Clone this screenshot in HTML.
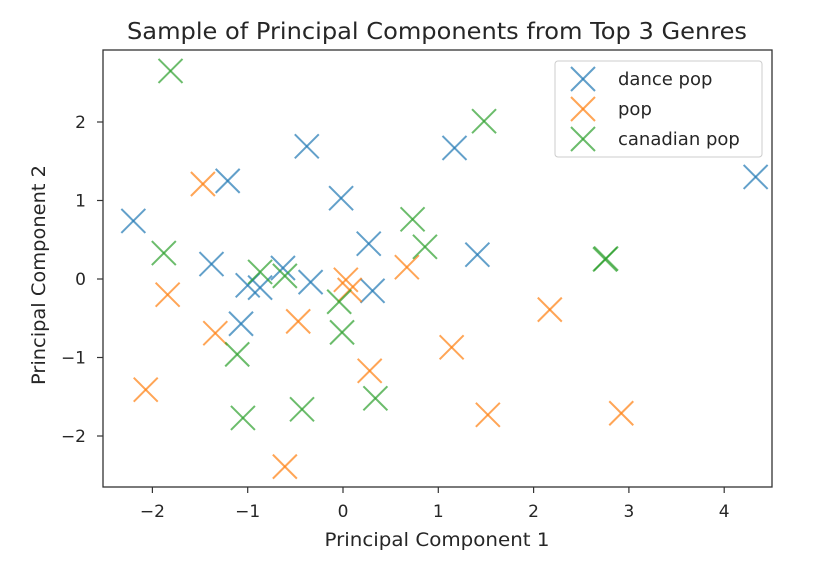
<!DOCTYPE html>
<html><head><meta charset="utf-8"><style>
body{margin:0;background:#fff;}
svg text{font-family:"DejaVu Sans","Liberation Sans",sans-serif;fill:#262626;}
</style></head><body>
<svg id="chart" width="818" height="566" xmlns="http://www.w3.org/2000/svg">
<rect width="818" height="566" fill="#fff"/>
<text x="437" y="39" font-size="23" text-anchor="middle" textLength="620" lengthAdjust="spacingAndGlyphs">Sample of Principal Components from Top 3 Genres</text>
<g id="axes"></g>
<g id="marks"></g>
<rect x="103" y="50" width="669" height="437" fill="none" stroke="#333" stroke-width="1.3"/>
<text x="437" y="546" font-size="19" text-anchor="middle" textLength="225" lengthAdjust="spacingAndGlyphs">Principal Component 1</text>
<text x="45" y="275" font-size="19" text-anchor="middle" textLength="220" lengthAdjust="spacingAndGlyphs" transform="rotate(-90 45 275)">Principal Component 2</text>
<g id="legend"></g>
</svg>
<script>
const seriesNames=["dance pop","pop","canadian pop"];
const seriesColors=["#1f77b4","#ff7f0e","#2ca02c"];
const danceX=[-2.2,-1.21,-0.38,-0.02,1.17,0.27,0.31,-1.38,-1.07,-1.0,-0.87,-0.63,-0.34,1.41,4.33];
const danceY=[0.74,1.25,1.69,1.03,1.67,0.45,-0.15,0.19,-0.57,-0.08,-0.11,0.14,-0.04,0.31,1.30];
const popX=[-1.47,-1.84,-1.34,-2.07,-0.47,-0.61,0.03,0.07,0.28,0.67,1.14,1.52,2.17,2.92];
const popY=[1.21,-0.2,-0.69,-1.41,-0.54,-2.39,-0.01,-0.14,-1.17,0.15,-0.87,-1.73,-0.39,-1.71];
const canX=[-1.81,-1.88,-1.11,-1.05,-0.87,-0.61,-0.43,-0.04,-0.01,0.34,0.73,0.86,1.48,2.75,2.76];
const canY=[2.65,0.33,-0.96,-1.77,0.09,0.04,-1.66,-0.29,-0.68,-1.52,0.76,0.41,2.01,0.25,0.26];
const xTicks=[-2,-1,0,1,2,3,4];
const yTicks=[-2,-1,0,1,2];
const NS="http://www.w3.org/2000/svg";
const xs=v=>343+v*95.3, ys=v=>279-v*78.5;
function mk(t,a,p){const e=document.createElementNS(NS,t);for(const k in a)e.setAttribute(k,a[k]);p.appendChild(e);return e;}
const axes=document.getElementById('axes');
xTicks.forEach(t=>{const x=xs(t);
 const l=mk('line',{x1:x,x2:x,y1:487,y2:493,stroke:'#333','stroke-width':1.2},axes);
 
 
 const tx=mk('text',{x:x,y:517,'font-size':17,'text-anchor':'middle'},axes);tx.textContent=(t<0?'\u2212'+(-t):t);
 
 });
yTicks.forEach(t=>{const y=ys(t);
 const l=mk('line',{x1:97,x2:103,y1:y,y2:y,stroke:'#333','stroke-width':1.2},axes);
 
 
 const tx=mk('text',{x:86,y:y+6,'font-size':17,'text-anchor':'end'},axes);tx.textContent=(t<0?'\u2212'+(-t):t);
 
 });
const marks=document.getElementById('marks');
function cross(cx,cy,c,p,r){const g=mk('g',{stroke:c,'stroke-width':2,'stroke-opacity':0.7,fill:'none'},p);
 mk('line',{x1:cx-r,y1:cy-r,x2:cx+r,y2:cy+r},g);mk('line',{x1:cx-r,y1:cy+r,x2:cx+r,y2:cy-r},g);return g;}
[[danceX,danceY],[popX,popY],[canX,canY]].forEach((s,i)=>{s[0].forEach((v,j)=>{
 const g=cross(xs(v),ys(s[1][j]),seriesColors[i],marks,12);
 
 });});
const lg=document.getElementById('legend');
mk('rect',{x:555,y:61,width:207,height:96,rx:3,fill:'#fff','fill-opacity':0.8,stroke:'#ccc'},lg);
const legendW=[101,50,132];
seriesNames.forEach((n,i)=>{const y=79+i*30;
 const g=cross(583,y,seriesColors[i],lg,12);
 
 
 const t=mk('text',{x:618,y:y+6,'font-size':18},lg);t.textContent=n;
 
 });
</script>
</body></html>
